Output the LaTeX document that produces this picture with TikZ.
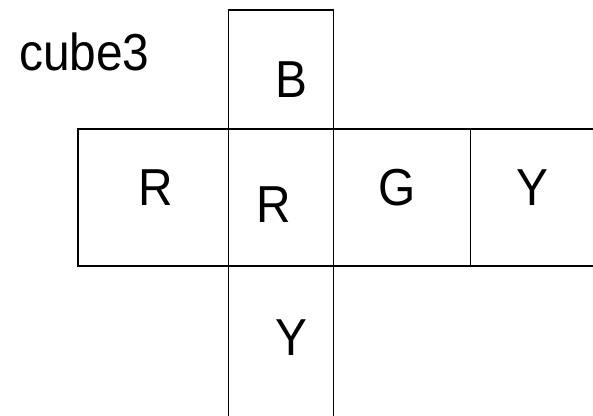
\documentclass[tikz,border=0pt]{standalone}
\usepackage{fontspec}
\usepackage{graphicx}
\setmainfont{Liberation Sans}
\newcommand{\narrowtxt}[1]{\scalebox{0.92}[1]{#1}}
\begin{document}
\begin{tikzpicture}[x=1pt,y=-1pt,
  edge/.style={line width=1.6pt,black},
  lbl/.style={font=\fontsize{52}{54}\selectfont,anchor=base,inner sep=0pt}]
\useasboundingbox (0,0) rectangle (593,415);
\clip (0,0) rectangle (593,415);
% vertical strip
\draw[edge] (228.5,430) -- (228.5,10) -- (333.5,10) -- (333.5,430);
% horizontal strip
\draw[edge] (610,129) -- (78,129) -- (78,266) -- (610,266);
\draw[edge] (470.5,129) -- (470.5,266);
% labels
\node[lbl,anchor=base west] (title) at (19,70) {\narrowtxt{cube3}};
\node[lbl] (top) at (291,97) {\narrowtxt{B}};
\node[lbl] (left) at (156,205) {\narrowtxt{R}};
\node[lbl] (front) at (274,222) {\narrowtxt{R}};
\node[lbl] (right) at (397,205) {\narrowtxt{G}};
\node[lbl] (back) at (532,205) {\narrowtxt{Y}};
\node[lbl] (bottom) at (291,355) {\narrowtxt{Y}};
\end{tikzpicture}
\end{document}
